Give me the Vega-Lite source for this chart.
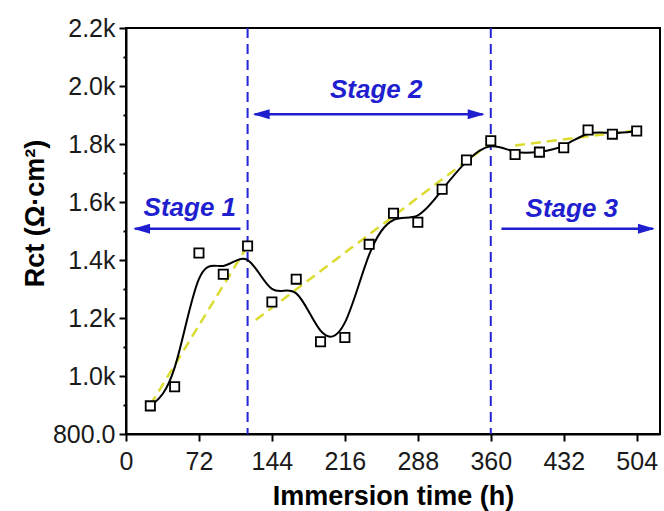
{
  "$schema": "https://vega.github.io/schema/vega-lite/v6.json",
  "width": 534,
  "height": 406,
  "autosize": {"type": "none"},
  "padding": {"left": 126, "top": 28, "right": 4, "bottom": 77},
  "background": "white",
  "config": {
    "font": "Liberation Sans",
    "view": {"stroke": "black", "strokeWidth": 2},
    "axis": {"grid": false, "domainColor": "black", "domainWidth": 2, "tickColor": "black", "tickWidth": 2, "labelColor": "#1a1a1a", "titleColor": "black"}
  },
  "datasets": {
    "rct": [
      {"t": 24, "r": 897}, {"t": 48, "r": 963}, {"t": 72, "r": 1424}, {"t": 96, "r": 1351},
      {"t": 120, "r": 1448}, {"t": 144, "r": 1255}, {"t": 168, "r": 1334}, {"t": 192, "r": 1118},
      {"t": 216, "r": 1133}, {"t": 240, "r": 1454}, {"t": 264, "r": 1561}, {"t": 288, "r": 1530},
      {"t": 312, "r": 1644}, {"t": 336, "r": 1745}, {"t": 360, "r": 1811}, {"t": 384, "r": 1764},
      {"t": 408, "r": 1772}, {"t": 432, "r": 1787}, {"t": 456, "r": 1848}, {"t": 480, "r": 1834},
      {"t": 504, "r": 1845}
    ],
    "fit": [
      {"stage": "Stage 1", "t": 24, "r": 900}, {"stage": "Stage 1", "t": 118, "r": 1438},
      {"stage": "Stage 2", "t": 128, "r": 1193}, {"stage": "Stage 2", "t": 359, "r": 1802},
      {"stage": "Stage 3", "t": 384, "r": 1795}, {"stage": "Stage 3", "t": 504, "r": 1847}
    ],
    "bounds": [{"t": 120}, {"t": 360}],
    "arrows": [
      {"stage": "Stage 1", "t": 9, "t2": 113, "r": 1508},
      {"stage": "Stage 2", "t": 127, "t2": 352, "r": 1903},
      {"stage": "Stage 3", "t": 370.5, "t2": 520, "r": 1508}
    ],
    "heads": [
      {"t": 7, "r": 1508, "dir": "left"},
      {"t": 125, "r": 1903, "dir": "left"},
      {"t": 354, "r": 1903, "dir": "right"},
      {"t": 522, "r": 1508, "dir": "right"}
    ],
    "labels": [
      {"t": 63, "r": 1553, "text": "Stage 1"},
      {"t": 247, "r": 1957, "text": "Stage 2"},
      {"t": 440, "r": 1550, "text": "Stage 3"}
    ]
  },
  "encoding": {
    "x": {"field": "t", "type": "quantitative",
      "scale": {"domain": [0, 527], "nice": false, "zero": false},
      "axis": {"values": [0, 72, 144, 216, 288, 360, 432, 504], "title": "Immersion time (h)",
        "labelFontSize": 25, "labelPadding": 8, "tickSize": 7, "labelFlush": false,
        "titleFontSize": 27, "titleFontWeight": "bold", "titleBaseline": "alphabetic", "titleY": 70}},
    "y": {"field": "r", "type": "quantitative",
      "scale": {"domain": [800, 2200], "nice": false, "zero": false},
      "axis": {"values": [800, 900, 1000, 1100, 1200, 1300, 1400, 1500, 1600, 1700, 1800, 1900, 2000, 2100, 2200],
        "labelExpr": "datum.value % 200 !== 0 ? '' : (datum.value == 800 ? '800.0' : format(datum.value / 1000, '.1f') + 'k')",
        "tickSize": {"condition": {"test": "datum.value % 200 !== 0", "value": 3}, "value": 7},
        "labelPadding": 4, "labelFontSize": 25, "labelFlush": false,
        "title": "Rct (Ω·cm²)", "titleFontSize": 27, "titleFontWeight": "bold",
        "titleAngle": -90, "titleBaseline": "alphabetic", "titleX": -83, "titleY": 185}}
  },
  "layer": [
    {
      "data": {"name": "bounds"},
      "mark": {"type": "rule", "color": "#2424d8", "strokeWidth": 2, "strokeDash": [10, 6]},
      "encoding": {"y": {"value": 0}, "y2": {"value": 406}}
    },
    {
      "data": {"name": "fit"},
      "mark": {"type": "line", "color": "#dcdc30", "strokeWidth": 2.5, "strokeDash": [10, 6]},
      "encoding": {"detail": {"field": "stage"}}
    },
    {
      "data": {"name": "rct"},
      "mark": {"type": "line", "interpolate": "basis", "color": "black", "strokeWidth": 2}
    },
    {
      "data": {"name": "rct"},
      "mark": {"type": "point", "shape": "square", "size": 85, "filled": false, "fill": "white", "fillOpacity": 1, "stroke": "black", "strokeWidth": 1.8, "opacity": 1}
    },
    {
      "data": {"name": "arrows"},
      "mark": {"type": "rule", "color": "#1f1fd0", "strokeWidth": 2.5},
      "encoding": {"x2": {"field": "t2"}}
    },
    {
      "data": {"name": "heads"},
      "transform": [{"filter": "datum.dir == 'left'"}],
      "mark": {"type": "point", "shape": "M0,0 L3.4,-1 L3.4,1 Z", "size": 100, "filled": true, "color": "#1f1fd0", "opacity": 1}
    },
    {
      "data": {"name": "heads"},
      "transform": [{"filter": "datum.dir == 'right'"}],
      "mark": {"type": "point", "shape": "M0,0 L-3.4,-1 L-3.4,1 Z", "size": 100, "filled": true, "color": "#1f1fd0", "opacity": 1}
    },
    {
      "data": {"name": "labels"},
      "mark": {"type": "text", "fontSize": 26, "fontWeight": "bold", "fontStyle": "italic", "color": "#1f1fd0", "baseline": "alphabetic", "align": "center"},
      "encoding": {"text": {"field": "text"}}
    }
  ]
}
